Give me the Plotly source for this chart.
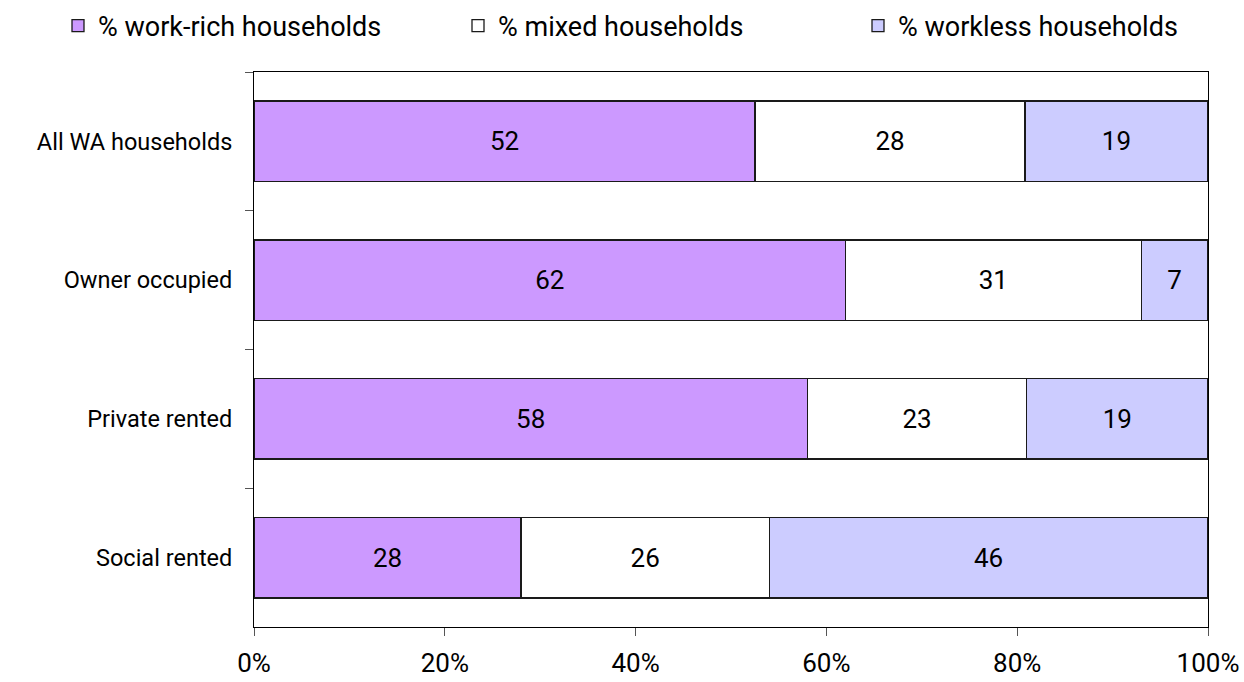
import plotly.graph_objects as go

categories = ["All WA households", "Owner occupied", "Private rented", "Social rented"]
work_rich = [52, 62, 58, 28]
mixed = [28, 31, 23, 26]
workless = [19, 7, 19, 46]
series_names = ["% work-rich households", "% mixed households", "% workless households"]
colors = ["#CC99FF", "#FFFFFF", "#CCCCFF"]

FONT = "Roboto"
L, R, T, B = 254, 36, 72, 55
W, H = 1244, 682
PW, PH = W - L - R, H - T - B

fig = go.Figure()
for name, vals, col in zip(series_names, [work_rich, mixed, workless], colors):
    fig.add_trace(go.Bar(
        y=categories, x=vals, name=name, orientation="h",
        marker=dict(color=col, line=dict(color="#1a1a1a", width=1.3)),
        text=[str(v) for v in vals], texttemplate="%{text}",
        textposition="inside", insidetextanchor="middle",
        textfont=dict(family=FONT, size=26, color="#000000"),
        width=0.58,
    ))

fig.update_layout(
    barmode="stack", barnorm="percent",
    width=W, height=H,
    margin=dict(l=L, r=R, t=T, b=B, autoexpand=False),
    paper_bgcolor="white", plot_bgcolor="white",
    font=dict(family=FONT, size=24, color="#000000"),
    showlegend=True,
    legend=dict(orientation="h", xref="paper", yref="paper",
                x=(58 - L) / PW, y=1 + (T - 26) / PH, xanchor="left", yanchor="middle",
                font=dict(family=FONT, size=27, color="#000000"),
                entrywidth=355, entrywidthmode="pixels",
                traceorder="normal", bgcolor="rgba(0,0,0,0)"),
    uniformtext=dict(mode="show", minsize=10),
)
fig.update_xaxes(range=[0, 100], dtick=20, ticksuffix="%", showgrid=False,
                 showline=True, linecolor="#000000", linewidth=1, mirror=True,
                 ticks="outside", ticklen=8, tickcolor="#555555",
                 tickfont=dict(family=FONT, size=26), ticklabelstandoff=5, zeroline=False)
fig.update_yaxes(categoryorder="array", categoryarray=categories, autorange="reversed",
                 showgrid=False, showline=True, linecolor="#000000", linewidth=1, mirror=True,
                 ticks="outside", ticklen=8, tickcolor="#555555", tickson="boundaries",
                 tickfont=dict(family=FONT, size=23.5), ticklabelstandoff=16)

fig.write_html("out.html")
